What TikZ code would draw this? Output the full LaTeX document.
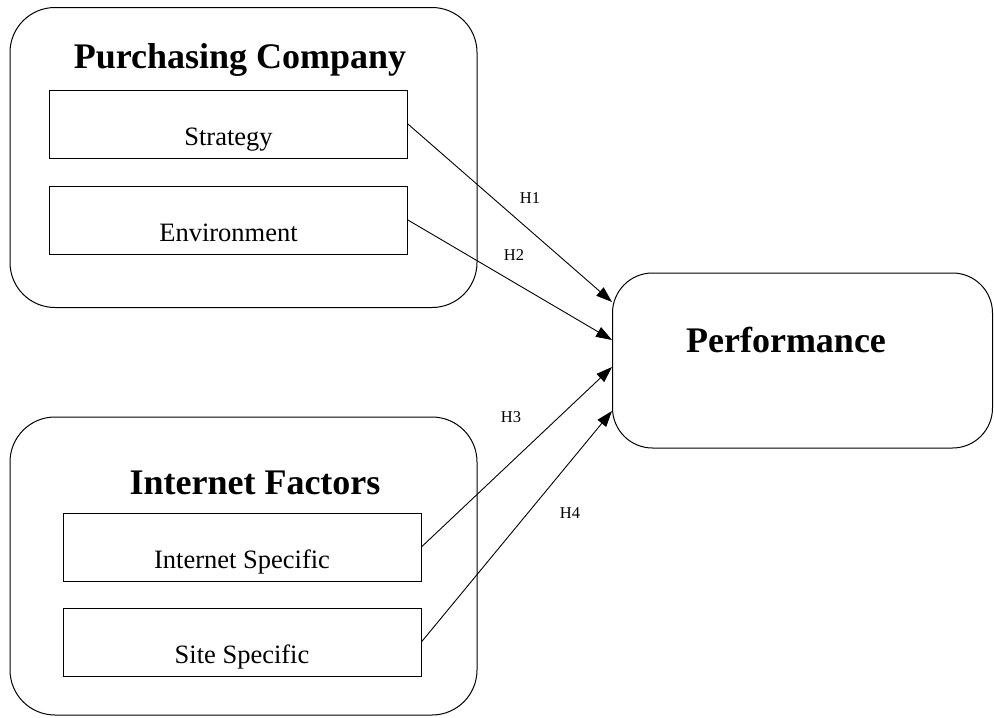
\documentclass[tikz,border=0pt]{standalone}
\usepackage{fontspec}
\setmainfont{Liberation Serif}
\usetikzlibrary{arrows.meta}

\tikzset{
    group/.style={draw, line width=1pt, rounded corners=45pt, minimum width=467pt, minimum height=300pt},
    factor/.style={draw, line width=0.8pt, inner sep=0pt, minimum width=358pt, text height=55pt, text depth=13pt, font=\fontsize{26.5}{30}\selectfont},
    heading/.style={anchor=base, font=\fontsize{36}{40}\selectfont\bfseries},
    hyp/.style={font=\fontsize{16.5}{19}\selectfont},
    link/.style={line width=0.9pt, -{Triangle[length=16pt,width=11pt]}}
}

\begin{document}
\begin{tikzpicture}[x=1pt, y=-1pt]

    \useasboundingbox (0,0) rectangle (994,718);

    %% Purchasing company
    \node[group] (pc) at (243.5, 157.5) {};
    \node[heading] (pctitle) at (240, 68) {Purchasing Company};
    \node[factor] (strat) at (228.5, 124) {Strategy};
    \node[factor] (env) at (228.5, 220) {Environment};

    %% Internet factors
    \node[group, minimum height=298pt] (inet) at (243.5, 566) {};
    \node[heading] (inettitle) at (255, 494) {Internet Factors};
    \node[factor] (ispec) at (242, 547) {Internet Specific};
    \node[factor] (sspec) at (242, 642) {Site Specific};

    %% Performance
    \node[draw, line width=1pt, rounded corners=40pt, minimum width=380pt, minimum height=175pt] (perf) at (802.5, 360.5) {};
    \node[heading] (perftitle) at (786, 352) {Performance};

    %% Hypotheses
    \draw[link] (strat.east) -- ([yshift=58.5pt]perf.west);
    \draw[link] (env.east) -- ([yshift=20.5pt]perf.west);
    \draw[link] (ispec.east) -- ([yshift=-6.5pt]perf.west);
    \draw[link] (sspec.east) -- ([yshift=-50.5pt]perf.west);

    \node[hyp] (h1) at (530, 198) {H1};
    \node[hyp] (h2) at (514, 255) {H2};
    \node[hyp] (h3) at (511, 417) {H3};
    \node[hyp] (h4) at (570, 513) {H4};

\end{tikzpicture}
\end{document}
